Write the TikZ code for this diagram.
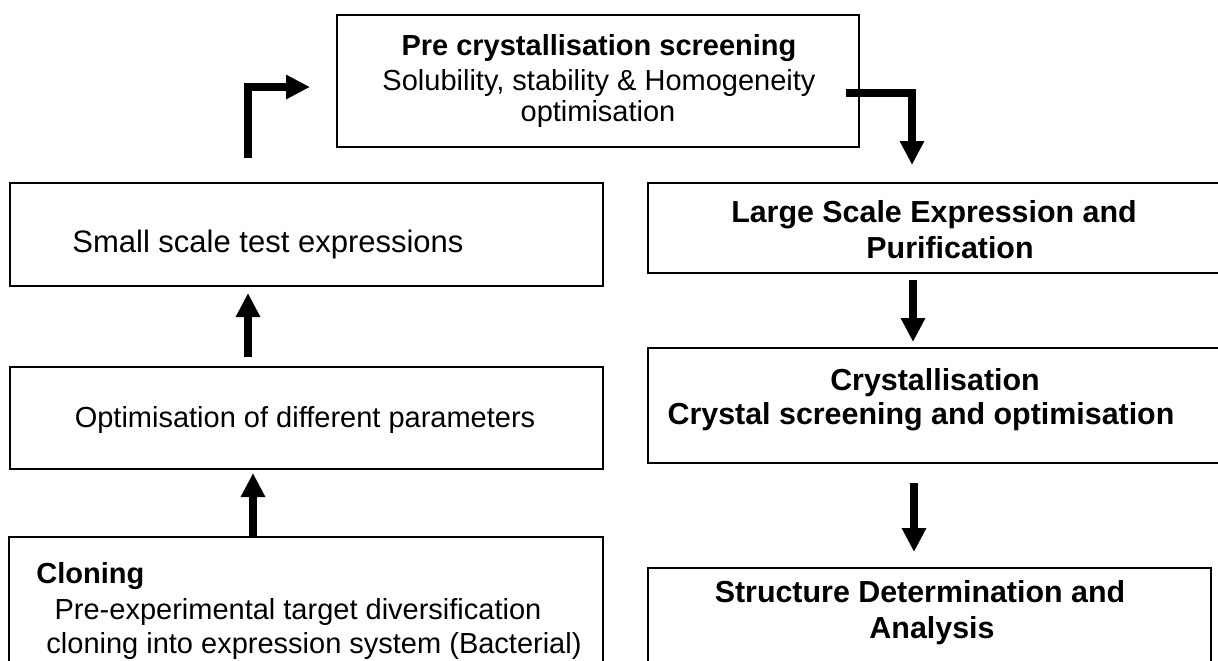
\documentclass[tikz,border=0pt]{standalone}
\usepackage{fontspec}
\setmainfont{Liberation Sans}
\usetikzlibrary{arrows.meta}
\begin{document}
\begin{tikzpicture}[x=0.5pt,y=-0.5pt,
  box/.style={draw, line width=1pt, inner sep=0pt, anchor=center},
  txt/.style={inner sep=0pt, anchor=base, font=\fontsize{14.5}{17}\selectfont},
  txtb/.style={txt, font=\fontsize{14.5}{17}\selectfont\bfseries},
  txtr/.style={txt, font=\fontsize{15.2}{18}\selectfont\bfseries},
  bigarrow/.style={line width=3.75pt, line join=miter, -{Triangle[width=11.5pt,length=12pt]}}]
\useasboundingbox (0,0) rectangle (1218,660);
\clip (0,0) rectangle (1218,660);
% boxes
\node[box, minimum width=261pt, minimum height=66pt] (top) at (598,81) {};
\node[box, minimum width=296.5pt, minimum height=51.5pt] (small) at (306.5,234.5) {};
\node[box, minimum width=296.5pt, minimum height=51pt] (opt) at (306.5,418) {};
\node[box, minimum width=297pt, minimum height=81.5pt] (clon) at (306,618.5) {};
\node[box, minimum width=301pt, minimum height=45pt] (large) at (949,228) {};
\node[box, minimum width=301pt, minimum height=57.5pt] (cryst) at (949,405.5) {};
\node[box, minimum width=281.5pt, minimum height=66pt] (struct) at (929.5,634) {};
% texts
\node[txtb] (t1) at (599,55) {Pre crystallisation screening};
\node[txt] (t2) at (599,90) {Solubility, stability \& Homogeneity};
\node[txt] (t3) at (598,121) {optimisation};
\node[txt, anchor=base west, font=\fontsize{15.5}{18}\selectfont] (s1) at (72,252) {Small scale test expressions};
\node[txt] (o1) at (305,427) {Optimisation of different parameters};
\node[txtb, anchor=base west] (c1) at (36,583) {Cloning};
\node[txt] (c2) at (298,619) {Pre-experimental target diversification};
\node[txt] (c3) at (314,653) {cloning into expression system (Bacterial)};
\node[txtr] (l1) at (934,222) {Large Scale Expression and};
\node[txtr] (l2) at (950,258) {Purification};
\node[txtr] (k1) at (935,390) {Crystallisation};
\node[txtr] (k2) at (921,424) {Crystal screening and optimisation};
\node[txtr] (r1) at (920,602) {Structure Determination and};
\node[txtr] (r2) at (932,638) {Analysis};
% arrow end points
\coordinate (a1s) at (248,158);
\coordinate (a1e) at (310,87);
\coordinate (b1s) at (846,93);
\coordinate (b1e) at (912,165);
\coordinate (u1s) at (248,357);
\coordinate (u1e) at (248,293);
\coordinate (u2s) at (253,537);
\coordinate (u2e) at (253,473);
\coordinate (d1s) at (913,280);
\coordinate (d1e) at (913,342);
\coordinate (d2s) at (914,483);
\coordinate (d2e) at (914,552);
% arrows
\draw[bigarrow] (a1s) |- (a1e);
\draw[bigarrow] (b1s) -| (b1e);
\draw[bigarrow] (u1s) -- (u1e);
\draw[bigarrow] (u2s) -- (u2e);
\draw[bigarrow] (d1s) -- (d1e);
\draw[bigarrow] (d2s) -- (d2e);
\end{tikzpicture}
\end{document}
